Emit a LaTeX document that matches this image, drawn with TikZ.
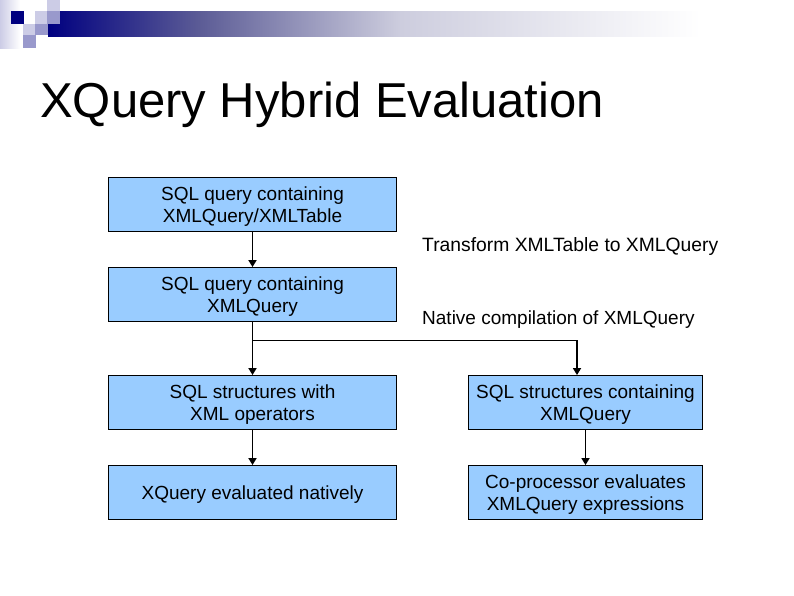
\documentclass[tikz,border=0pt]{standalone}
\usepackage{fontspec}
\setmainfont{Liberation Sans}
\usetikzlibrary{arrows.meta}
\definecolor{boxfill}{RGB}{153,204,255}
\definecolor{navy}{RGB}{0,0,128}
\definecolor{barmid}{RGB}{92,92,150}
\definecolor{barlight}{RGB}{205,205,222}
\definecolor{lilaca}{RGB}{153,153,204}
\definecolor{lilacb}{RGB}{204,204,230}
\tikzset{
  flowbox/.style={draw=black,fill=boxfill,line width=0.9pt,minimum height=54pt,inner sep=0pt,align=center,font=\fontsize{19}{22}\selectfont,text depth=0pt},
  leftbox/.style={flowbox,minimum width=288pt},
  rightbox/.style={flowbox,minimum width=234pt},
  note/.style={anchor=west,inner sep=0pt},
  conn/.style={line width=1.7pt,-{Triangle[length=7pt,width=8pt]}},
  plainconn/.style={line width=0.9pt}
}
\begin{document}
\begin{tikzpicture}[x=1pt,y=-1pt]
\useasboundingbox (0,0) rectangle (794,595);
\fill[white] (0,0) rectangle (794,595);
% banner
\shade[left color=navy,right color=barmid] (48,11) rectangle (200,36);
\shade[left color=barmid,right color=barlight] (200,11) rectangle (400,36);
\shade[left color=barlight,right color=white] (400,11) rectangle (700,36);
\shade[left color=lilacb,right color=white] (0,0) rectangle (20,48);
\fill[navy] (11,11) rectangle (24,24);
\fill[lilacb] (47,0) rectangle (60,11);
\fill[lilacb] (35,11) rectangle (47,24);
\fill[lilaca] (47,11) rectangle (60,24);
\fill[lilacb] (23,24) rectangle (35,35);
\fill[lilaca] (35,24) rectangle (48,35);
\fill[lilaca] (23,35) rectangle (36,48);
% title
\node[anchor=west,inner sep=0pt,font=\fontsize{49}{56}\selectfont] (title) at (40,105) {XQuery Hybrid Evaluation};
% boxes
\node[leftbox] (a) at (252.5,204.5) {SQL query containing\\XMLQuery/XMLTable};
\node[leftbox] (b) at (252.5,294.5) {SQL query containing\\XMLQuery};
\node[leftbox] (c) at (252.5,402.5) {SQL structures with\\XML operators};
\node[leftbox] (d) at (252.5,492.5) {XQuery evaluated natively};
\node[rightbox] (e) at (585.5,402.5) {SQL structures containing\\XMLQuery};
\node[rightbox] (f) at (585.5,492.5) {Co-processor evaluates\\XMLQuery expressions};
% notes
\node[note,font=\fontsize{19.3}{22}\selectfont] (n1) at (422,247) {Transform XMLTable to XMLQuery};
\node[note,font=\fontsize{19}{22}\selectfont] (n2) at (422,320) {Native compilation of XMLQuery};
% connectors
\coordinate (fork) at (b.south |- 0,340);
\coordinate (forkr) at ([xshift=-8.5pt]e.north |- fork);
\draw[conn] (a) -- (b);
\draw[conn] (b) -- (c);
\draw[conn] (c) -- (d);
\draw[conn] (e) -- (f);
\draw[plainconn] (fork) -- (forkr);
\draw[conn] (forkr) -- ([xshift=-8.5pt]e.north);
\end{tikzpicture}
\end{document}
